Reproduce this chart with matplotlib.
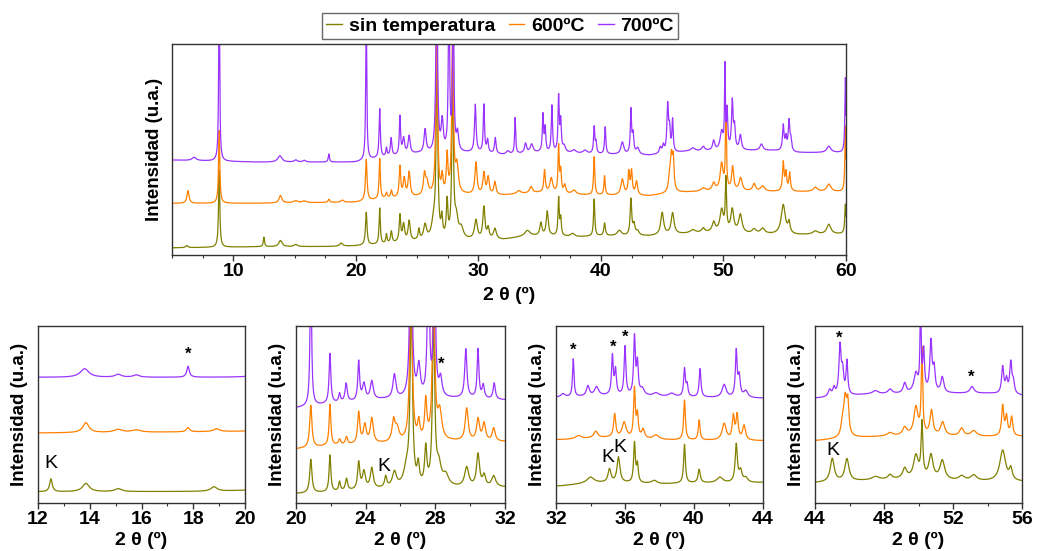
import numpy as np
import matplotlib
matplotlib.use("Agg")
import matplotlib.pyplot as plt
from matplotlib.ticker import MultipleLocator
from matplotlib.lines import Line2D

plt.rcParams['font.family'] = ['Liberation Sans', 'DejaVu Sans']
plt.rcParams['font.weight'] = 'bold'

# ---------------- data ----------------
series_names = ["sin temperatura", "600ºC", "700ºC"]

# background levels (2θ, intensity) for each trace
olive_bg_x = [5, 8, 12, 18, 20, 22, 25, 29, 32, 34, 36, 38, 40, 44, 46, 50, 52, 56, 60]
olive_bg_y = [3.4, 3.6, 3.9, 4.0, 4.3, 5.0, 6.5, 7.0, 7.2, 9.0, 9.0, 8.5, 9.0, 9.0, 9.8, 11.0, 10.0, 9.5, 10.0]
orange_bg_x = [5, 12, 20, 22, 25, 29, 32, 35, 38, 44, 46, 50, 53, 56, 60]
orange_bg_y = [24.5, 24.5, 25.0, 26.5, 27.5, 28.5, 28.3, 29.5, 28.5, 28.0, 29.5, 30.5, 30.0, 30.0, 30.0]
purple_bg_x = [5, 12, 20, 22, 25, 30, 32, 35, 38, 44, 47, 50, 54, 56, 60]
purple_bg_y = [45.0, 44.0, 44.0, 46.0, 48.0, 48.5, 47.5, 48.5, 48.0, 47.2, 49.0, 49.5, 49.5, 48.5, 48.5]

# peaks: position (2θ), height above background, width (FWHM)
olive_pos = [6.2, 8.85, 12.5, 13.85, 15.1, 18.8, 20.85, 21.95, 22.5, 22.9, 23.6, 23.9, 24.35, 25.15,
             25.65, 26.35, 26.62, 27.02, 27.45, 27.9, 28.2, 28.6, 29.8, 30.45, 30.8, 31.35, 34.0,
             35.1, 35.62, 36.55, 36.72, 37.7, 39.45, 40.3, 41.5, 42.45, 42.7, 43.0, 45.0, 45.85,
             47.5, 48.35, 49.2, 49.85, 50.2, 50.72, 51.38, 52.5, 53.2, 54.88, 55.35, 57.5, 58.6, 59.95]
olive_h = [1.0, 36.4, 4.5, 2.9, 1.0, 1.5, 15.5, 17.0, 4.3, 5.5, 12.5, 8.0, 9.5, 5.0,
           7.0, 8.0, 88.0, 9.0, 17.0, 78.0, 9.0, 5.0, 9.0, 15.0, 5.0, 5.0, 2.5,
           6.0, 11.5, 17.8, 8.0, 1.5, 17.5, 6.0, 2.5, 17.0, 5.0, 2.0, 10.5, 10.0,
           1.5, 2.0, 4.5, 10.0, 24.0, 10.5, 8.5, 2.0, 2.5, 14.0, 5.0, 1.5, 4.6, 14.0]
olive_w = [0.2, 0.12, 0.12, 0.32, 0.32, 0.28, 0.15, 0.12, 0.12, 0.15, 0.15, 0.2, 0.2, 0.15,
           0.28, 0.4, 0.15, 0.15, 0.15, 0.15, 0.32, 0.4, 0.28, 0.2, 0.2, 0.28, 0.5,
           0.2, 0.2, 0.12, 0.12, 0.4, 0.12, 0.15, 0.4, 0.15, 0.2, 0.28, 0.28, 0.28,
           0.5, 0.28, 0.28, 0.32, 0.12, 0.28, 0.32, 0.4, 0.4, 0.4, 0.2, 0.5, 0.4, 0.12]

orange_pos = [6.3, 8.85, 13.85, 15.1, 15.8, 17.8, 18.9, 20.85, 21.95, 22.5, 22.9, 23.6, 23.95, 24.35,
              25.6, 25.8, 26.6, 27.05, 27.45, 27.9, 28.25, 29.8, 30.45, 30.8, 31.35, 33.3, 34.3,
              35.4, 35.95, 36.55, 36.72, 37.05, 37.8, 39.45, 40.3, 41.75, 42.28, 42.5, 42.9,
              45.6, 45.75, 45.9, 48.35, 49.2, 49.85, 50.2, 50.75, 51.4, 52.5, 53.2, 54.88, 55.1,
              55.4, 57.5, 58.6, 59.95]
orange_h = [6.0, 34.5, 3.5, 1.0, 0.8, 1.5, 1.0, 19.5, 19.0, 2.5, 3.5, 14.5, 8.5, 11.5,
            9.5, 6.0, 90.0, 8.0, 18.0, 80.0, 13.0, 15.0, 10.0, 8.0, 6.0, 1.5, 3.0,
            10.5, 7.0, 22.0, 10.0, 4.0, 2.0, 18.0, 9.0, 7.5, 10.5, 11.0, 6.5,
            6.0, 16.0, 14.0, 1.5, 3.5, 12.5, 38.0, 11.0, 6.0, 3.5, 2.5, 13.5, 8.5,
            8.5, 2.0, 3.5, 31.0]
orange_w = [0.2, 0.12, 0.28, 0.4, 0.4, 0.15, 0.28, 0.15, 0.12, 0.15, 0.15, 0.15, 0.2, 0.2,
            0.2, 0.28, 0.15, 0.15, 0.15, 0.15, 0.28, 0.2, 0.2, 0.2, 0.2, 0.4, 0.28,
            0.15, 0.28, 0.12, 0.12, 0.2, 0.4, 0.12, 0.12, 0.28, 0.15, 0.15, 0.2,
            0.2, 0.2, 0.15, 0.4, 0.28, 0.28, 0.1, 0.2, 0.28, 0.28, 0.4, 0.15, 0.15,
            0.15, 0.4, 0.4, 0.1]

purple_pos = [6.8, 8.85, 13.8, 15.1, 15.8, 17.8, 20.85, 21.95, 22.5, 22.88, 23.6, 23.9, 24.35, 25.65,
              26.6, 27.05, 27.6, 27.95, 28.3, 29.75, 30.45, 30.75, 31.38, 32.4, 33.0, 33.85, 34.35,
              35.27, 35.45, 36.0, 36.55, 36.72, 37.0, 37.8, 38.7, 39.45, 39.6, 40.35, 41.75, 42.45,
              42.62, 43.0, 44.85, 45.1, 45.45, 45.6, 45.85, 47.5, 48.35, 49.2, 49.85, 50.12, 50.3,
              50.72, 50.9, 51.38, 53.1, 54.88, 55.1, 55.35, 55.5, 58.6, 59.95]
purple_h = [1.5, 80.0, 3.0, 1.0, 0.8, 3.8, 70.0, 23.0, 4.0, 8.5, 18.0, 7.5, 8.5, 11.0,
            90.0, 14.0, 80.0, 80.0, 8.5, 22.5, 22.5, 6.0, 7.5, 1.5, 17.0, 4.5, 4.0,
            17.5, 11.0, 22.0, 26.0, 14.0, 3.0, 1.5, 1.5, 12.5, 5.0, 12.8, 5.8, 20.5,
            9.0, 3.0, 3.0, 3.5, 22.0, 10.0, 15.0, 1.5, 2.0, 4.5, 8.5, 38.0, 18.0,
            22.5, 10.0, 7.0, 3.0, 12.0, 6.0, 14.0, 5.0, 3.0, 35.5]
purple_w = [0.4, 0.1, 0.4, 0.28, 0.28, 0.12, 0.1, 0.12, 0.12, 0.15, 0.12, 0.2, 0.2, 0.2,
            0.15, 0.2, 0.12, 0.12, 0.2, 0.15, 0.12, 0.15, 0.15, 0.28, 0.1, 0.2, 0.28,
            0.12, 0.12, 0.12, 0.12, 0.12, 0.28, 0.4, 0.4, 0.12, 0.12, 0.12, 0.28, 0.12,
            0.15, 0.28, 0.2, 0.15, 0.15, 0.15, 0.12, 0.4, 0.28, 0.2, 0.28, 0.08, 0.12,
            0.15, 0.15, 0.2, 0.28, 0.15, 0.15, 0.15, 0.15, 0.4, 0.1]

# panels: x ranges, y ranges, tick steps
top_xlim = (5, 60)
top_ylim = (0, 100)
zoom_xlims = [(12, 20), (20, 32), (32, 44), (44, 56)]
zoom_ylims = [(0, 62), (0, 82), (0, 80), (0, 80)]
zoom_major = [2, 4, 4, 4]

# markers in the zoomed panels: panel index, 2θ, intensity
star_panel = [0, 1, 2, 2, 2, 3, 3]
star_x = [17.8, 28.36, 33.0, 35.33, 36.0, 45.4, 53.07]
star_y = [52.0, 64.5, 69.0, 70.5, 75.0, 74.5, 57.0]
k_panel = [0, 1, 2, 2, 3]
k_x = [12.48, 25.05, 34.98, 35.72, 45.02]
k_y = [13.7, 16.9, 20.7, 25.3, 23.8]

colors = ['#808000', '#FF8000', '#9933FF']

# ---------------- build traces ----------------
theta = np.arange(5.0, 60.0001, 0.01)


def trace(bg_x, bg_y, pos, h, w):
    y = np.interp(theta, bg_x, bg_y)
    for c, a, fw in zip(pos, h, w):
        y = y + a / (1.0 + ((theta - c) / (fw / 2.0)) ** 2)
    return y


traces = [
    trace(olive_bg_x, olive_bg_y, olive_pos, olive_h, olive_w),
    trace(orange_bg_x, orange_bg_y, orange_pos, orange_h, orange_w),
    trace(purple_bg_x, purple_bg_y, purple_pos, purple_h, purple_w),
]

# ---------------- figure ----------------
W, H = 1038, 551
fig = plt.figure(figsize=(W / 100, H / 100), dpi=100)


def fax(l, t, r, b):
    return fig.add_axes([l / W, 1 - b / H, (r - l) / W, (b - t) / H])


spine_col = '#333333'
tick_fs = 14
lab_fs = 13.5


def style(ax, xlim, ylim, major, minor, xlab_y, ylab_x):
    ax.set_xlim(*xlim)
    ax.set_ylim(*ylim)
    ax.xaxis.set_major_locator(MultipleLocator(major))
    ax.xaxis.set_minor_locator(MultipleLocator(minor))
    ax.set_yticks([])
    ax.tick_params(axis='x', which='major', direction='out', length=4, width=1,
                   color=spine_col, labelsize=tick_fs, pad=2)
    ax.tick_params(axis='x', which='minor', direction='out', length=2.5, width=0.8,
                   color=spine_col)
    for lab in ax.get_xticklabels():
        lab.set_fontweight('bold')
    for s in ax.spines.values():
        s.set_color(spine_col)
        s.set_linewidth(1.0)
    ax.set_xlabel('2 θ (º)', fontsize=14, fontweight='bold')
    ax.xaxis.set_label_coords(0.5, xlab_y)
    ax.set_ylabel('Intensidad (u.a.)', fontsize=lab_fs, fontweight='bold')
    ax.yaxis.set_label_coords(ylab_x, 0.5)


# top panel
ax_top = fax(172, 44, 846, 255)
for y, c in zip(traces, colors):
    ax_top.plot(theta, y, color=c, lw=0.9)
style(ax_top, top_xlim, top_ylim, 10, 2.5, -0.15, -0.013)

# legend
handles = [Line2D([], [], color=c, lw=1.0) for c in colors]
leg = fig.legend(handles, series_names, loc='center', bbox_to_anchor=(500 / W, 1 - 26 / H),
                 ncol=3, frameon=True, fancybox=False, handlelength=0.8, handletextpad=0.35,
                 columnspacing=0.7, borderpad=0.2, prop={'weight': 'bold', 'size': 14})
leg.get_frame().set_edgecolor('#444444')
leg.get_frame().set_linewidth(1.0)

# zoom panels
boxes = [(38, 245), (296, 505), (556, 763), (815, 1022)]
zaxes = []
for i, (l, r) in enumerate(boxes):
    ax = fax(l, 326, r, 503)
    for y, c in zip(traces, colors):
        ax.plot(theta, y, color=c, lw=0.9)
    style(ax, zoom_xlims[i], zoom_ylims[i], zoom_major[i], zoom_major[i] / 2, -0.165, -0.048)
    zaxes.append(ax)

for p, x, y in zip(star_panel, star_x, star_y):
    zaxes[p].text(x, y, '*', fontsize=12, fontweight='bold', ha='center', va='center', color='black')
for p, x, y in zip(k_panel, k_x, k_y):
    zaxes[p].text(x, y, 'K', fontsize=14, fontweight='normal', ha='center', va='center', color='black')

fig.savefig('out.png', dpi=100, facecolor='white')
